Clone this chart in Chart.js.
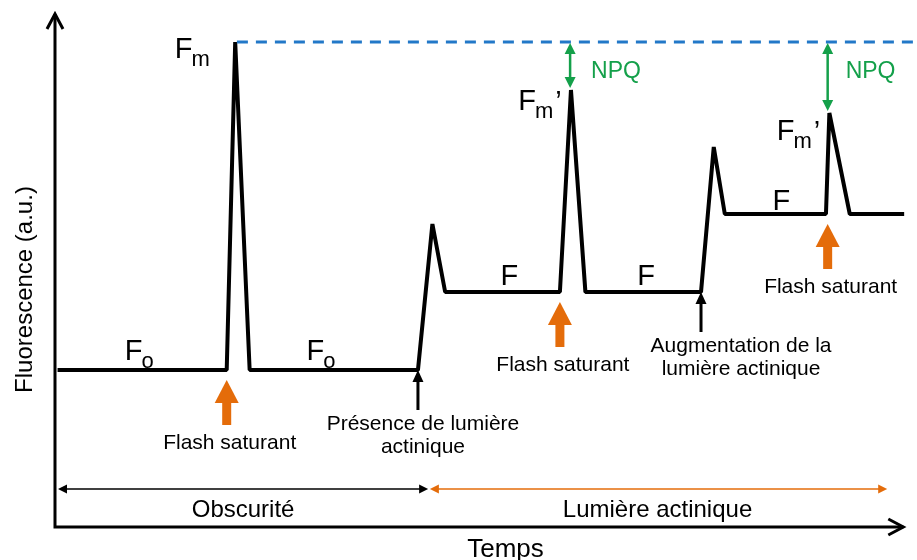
<!DOCTYPE html>
<html>
<head>
<meta charset="utf-8">
<script src="https://cdn.jsdelivr.net/npm/chart.js@4.4.1/dist/chart.umd.min.js"></script>
<style>
  html, body { margin: 0; padding: 0; background: #fff; }
  #wrap { width: 917px; height: 560px; }
</style>
</head>
<body>
<div id="wrap"><canvas id="chart" width="917" height="560"></canvas></div>
<script>
// fluorescence trace (time in a.u., fluorescence in a.u.)
const traceTime = [0.3, 20.2, 21.2, 22.9, 42.7, 44.4, 45.9, 59.4, 60.7, 62.4, 76.0, 77.5, 78.8, 90.7, 91.1, 93.5, 99.9];
const traceFluo = [31.4, 31.4, 97, 31.4, 31.4, 60.6, 47, 47, 87.4, 47, 47, 76, 62.6, 62.6, 82.8, 62.6, 62.6];

// Fm reference level (dashed line)
const fmLevel = 97;
const fmLineTime = [21.4, 101.4];

// events
const flashTimes = [20.2, 59.4, 90.9];
const flashLevels = [31.4, 47, 62.6];
const lightTimes = [42.7, 76.0];
const lightLevels = [31.4, 47];
const npqTimes = [60.6, 90.9];
const npqPeaks = [87.4, 82.8];

// periods along time axis
const periodStart = [0.35, 44.1];
const periodEnd = [43.9, 97.9];
const periodLabels = ["Obscurité", "Lumière actinique"];

const FONT = '"Liberation Sans", Arial, sans-serif';
const ORANGE = "#E46C0A";
const GREEN = "#14A04A";
const BLUE = "#2278C8";

function arrowHead(ctx, x, y, dx, dy, len, half) {
  // filled triangle, tip at (x,y), pointing along (dx,dy)
  const bx = x - dx * len, by = y - dy * len;
  ctx.beginPath();
  ctx.moveTo(x, y);
  ctx.lineTo(bx - dy * half, by + dx * half);
  ctx.lineTo(bx + dy * half, by - dx * half);
  ctx.closePath();
  ctx.fill();
}

const annotations = {
  id: "annotations",
  beforeDatasetsDraw(chart) {
    const { ctx, scales: { x, y } } = chart;
    const X = (t) => x.getPixelForValue(t);
    const Y = (f) => y.getPixelForValue(f);
    ctx.save();
    // axes with open arrow heads
    ctx.strokeStyle = "#000";
    ctx.lineWidth = 3;
    ctx.lineCap = "butt";
    ctx.beginPath();
    ctx.moveTo(X(0), Y(0) + 1.5);
    ctx.lineTo(X(0), Y(102.6));
    ctx.moveTo(X(0) - 1.5, Y(0));
    ctx.lineTo(X(99.8), Y(0));
    ctx.stroke();
    ctx.lineJoin = "miter";
    ctx.beginPath();
    ctx.moveTo(X(0) - 8, Y(102.6) + 15);
    ctx.lineTo(X(0), Y(102.6));
    ctx.lineTo(X(0) + 8, Y(102.6) + 15);
    ctx.moveTo(X(99.8) - 15, Y(0) - 8);
    ctx.lineTo(X(99.8), Y(0));
    ctx.lineTo(X(99.8) - 15, Y(0) + 8);
    ctx.stroke();
    ctx.restore();
  },
  afterDatasetsDraw(chart) {
    const { ctx, scales: { x, y } } = chart;
    const X = (t) => x.getPixelForValue(t);
    const Y = (f) => y.getPixelForValue(f);
    ctx.save();

    // period arrows
    const rowY = Y(7.6);
    [["#000", 0], [ORANGE, 1]].forEach(([col, i]) => {
      const x0 = X(periodStart[i]), x1 = X(periodEnd[i]);
      ctx.strokeStyle = col;
      ctx.fillStyle = col;
      ctx.lineWidth = 1.6;
      ctx.beginPath();
      ctx.moveTo(x0 + 6, rowY);
      ctx.lineTo(x1 - 6, rowY);
      ctx.stroke();
      arrowHead(ctx, x0, rowY, -1, 0, 9, 4.5);
      arrowHead(ctx, x1, rowY, 1, 0, 9, 4.5);
      ctx.fillStyle = "#000";
      ctx.font = "24px " + FONT;
      ctx.textAlign = "center";
      ctx.textBaseline = "alphabetic";
      ctx.fillText(periodLabels[i], (X(periodStart[i]) + X(periodEnd[i])) / 2 + (i ? -1 : 0) , rowY + 28);
    });

    // saturating flashes (orange arrows)
    flashTimes.forEach((t, i) => {
      const cx = X(t), tip = Y(flashLevels[i]) + 10, base = tip + 45;
      ctx.fillStyle = ORANGE;
      ctx.fillRect(cx - 4.5, tip + 20, 9, base - tip - 20);
      arrowHead(ctx, cx, tip, 0, -1, 23, 12);
      ctx.fillStyle = "#000";
      ctx.font = "21px " + FONT;
      ctx.textAlign = "center";
      ctx.fillText("Flash saturant", cx + 3, base + 24);
    });

    // actinic light changes (thin black arrows)
    const lightText = [["Présence de lumière", "actinique"], ["Augmentation de la", "lumière actinique"]];
    const lightShift = [5, 40];
    lightTimes.forEach((t, i) => {
      const cx = X(t), tip = Y(lightLevels[i]);
      ctx.fillStyle = "#000";
      ctx.fillRect(cx - 1.5, tip + 8, 3, 32);
      arrowHead(ctx, cx, tip, 0, -1, 12, 5.5);
      ctx.font = "21px " + FONT;
      ctx.textAlign = "center";
      ctx.fillText(lightText[i][0], cx + lightShift[i], tip + 60);
      ctx.fillText(lightText[i][1], cx + lightShift[i], tip + 83);
    });

    // NPQ arrows
    npqTimes.forEach((t, i) => {
      const cx = X(t), top = Y(fmLevel) + 1, bot = Y(npqPeaks[i]) - 2;
      ctx.strokeStyle = GREEN;
      ctx.fillStyle = GREEN;
      ctx.lineWidth = 2.5;
      ctx.beginPath();
      ctx.moveTo(cx, top + 8);
      ctx.lineTo(cx, bot - 8);
      ctx.stroke();
      arrowHead(ctx, cx, top, 0, -1, 11, 5.5);
      arrowHead(ctx, cx, bot, 0, 1, 11, 5.5);
      ctx.font = "23px " + FONT;
      ctx.textAlign = "left";
      ctx.fillText("NPQ", cx + (i ? 18 : 21), Y(fmLevel) + 36);
    });

    // level labels
    ctx.fillStyle = "#000";
    ctx.textAlign = "left";
    const sub = (t, f, main, s, prime) => {
      const x0 = X(t), b = Y(f);
      ctx.font = "29px " + FONT;
      ctx.fillText(main, x0, b);
      const w = ctx.measureText(main).width;
      ctx.font = "22px " + FONT;
      ctx.fillText(s, x0 + w - 1, b + 8);
      if (prime) {
        const w2 = ctx.measureText(s).width;
        ctx.font = "29px " + FONT;
        ctx.fillText("’", x0 + w + w2 + 1, b + 1);
      }
    };
    sub(8.2, 33.4, "F", "o");
    sub(29.6, 33.4, "F", "o");
    sub(14.1, 93.8, "F", "m");
    sub(54.5, 83.4, "F", "m", true);
    sub(84.9, 77.4, "F", "m", true);
    ctx.font = "29px " + FONT;
    [[52.4, 48.4], [68.5, 48.4], [84.4, 63.4]].forEach(([t, f]) => ctx.fillText("F", X(t), Y(f)));

    // axis titles
    ctx.font = "26px " + FONT;
    ctx.textAlign = "center";
    ctx.fillText("Temps", X(53), Y(0) + 30);
    ctx.translate(X(0) - 23, Y(47.5));
    ctx.rotate(-Math.PI / 2);
    ctx.font = "24px " + FONT;
    ctx.fillText("Fluorescence (a.u.)", 0, 0);
    ctx.restore();
  }
};

new Chart(document.getElementById("chart"), {
  type: "scatter",
  data: {
    datasets: [
      {
        label: "Fm",
        data: fmLineTime.map((t) => ({ x: t, y: fmLevel })),
        showLine: true,
        borderColor: BLUE,
        borderWidth: 3,
        borderDash: [11, 8],
        pointRadius: 0,
      },
      {
        label: "Fluorescence",
        data: traceTime.map((t, i) => ({ x: t, y: traceFluo[i] })),
        showLine: true,
        borderColor: "#000",
        borderWidth: 4,
        borderJoinStyle: "bevel",
        borderCapStyle: "butt",
        pointRadius: 0,
        tension: 0,
      },
    ],
  },
  options: {
    responsive: false,
    animation: false,
    layout: { padding: 0 },
    scales: {
      x: { type: "linear", display: false, min: -6.47, max: 101.41 },
      y: { type: "linear", display: false, min: -6.6, max: 105.4 },
    },
    plugins: {
      legend: { display: false },
      tooltip: { enabled: false },
    },
  },
  plugins: [annotations],
});
</script>
</body>
</html>
